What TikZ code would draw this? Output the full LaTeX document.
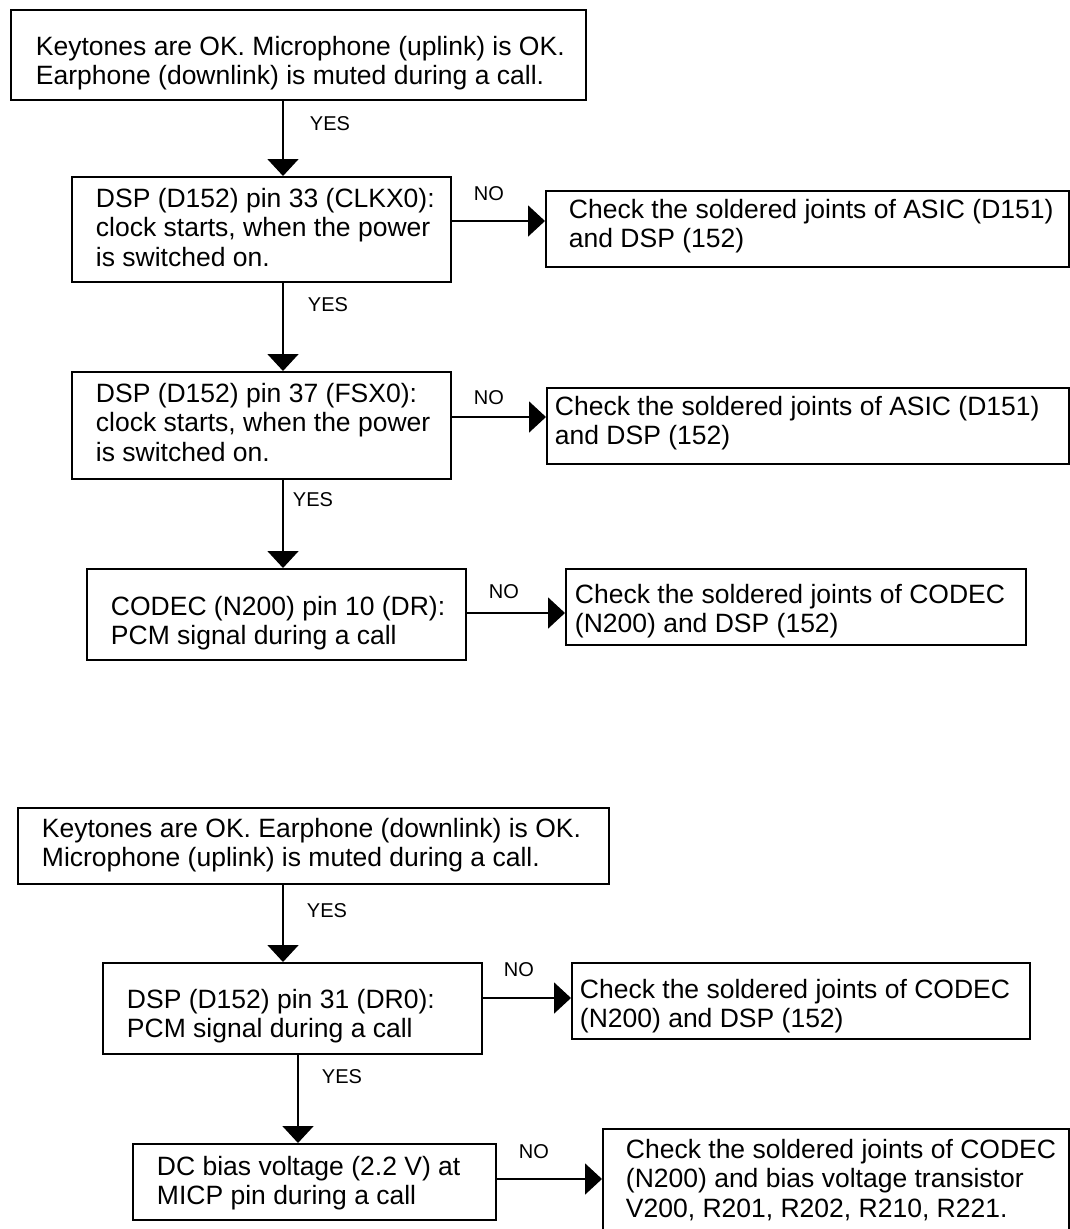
\documentclass[tikz,border=0pt]{standalone}
\usepackage{fontspec}
\setmainfont{Liberation Sans}
\usetikzlibrary{arrows.meta}
% name, x1, y1, x2, y2, text x, first baseline y, text
\newcommand{\flowbox}[8]{%
  \node[boxst, minimum width={(#4-#2)*1pt}, minimum height={(#5-#3)*1pt}] (#1) at (#2,#3) {};
  \node[txt] (#1t) at (#6,#7) {\begin{tabular}[t]{@{}l@{}}#8\end{tabular}};}
\begin{document}
\begin{tikzpicture}[x=1pt,y=-1pt,line width=1.9pt,
  boxst/.style={draw, rectangle, inner sep=0pt, anchor=north west},
  txt/.style={inner sep=0pt, anchor=base west, font=\fontsize{26.5}{29.5}\selectfont},
  lbl/.style={font=\fontsize{20}{24}\selectfont, inner sep=0pt, anchor=west},
  arr/.style={-{Triangle[width=31pt,length=17pt]}}]
\fill[white] (0,0) rectangle (1070,1229);
\useasboundingbox (0,0) rectangle (1070,1229);
% top chart
\flowbox{A1}{10}{9}{585}{99}{35}{55}{Keytones are OK. Microphone (uplink) is OK.\\Earphone (downlink) is muted during a call.}
\flowbox{A2}{71}{176}{450}{281}{95}{207}{DSP (D152) pin 33 (CLKX0):\\clock starts, when the power\\is switched on.}
\flowbox{C1}{545}{190}{1068}{266}{568}{218}{Check the soldered joints of ASIC (D151)\\and DSP (152)}
\flowbox{A3}{71}{371}{450}{478}{95}{402}{DSP (D152) pin 37 (FSX0):\\clock starts, when the power\\is switched on.}
\flowbox{C2}{546}{387}{1068}{463}{554}{415}{Check the soldered joints of ASIC (D151)\\and DSP (152)}
\flowbox{A4}{86}{568}{465}{659}{110}{615}{CODEC (N200) pin 10 (DR):\\PCM signal during a call}
\flowbox{C3}{565}{568}{1025}{644}{574}{603}{Check the soldered joints of CODEC\\(N200) and DSP (152)}
% bottom chart
\flowbox{B1}{17}{807}{608}{883}{41}{837}{Keytones are OK. Earphone (downlink) is OK.\\Microphone (uplink) is muted during a call.}
\flowbox{B2}{102}{962}{481}{1053}{126}{1008}{DSP (D152) pin 31 (DR0):\\PCM signal during a call}
\flowbox{C4}{571}{962}{1029}{1038}{579}{998}{Check the soldered joints of CODEC\\(N200) and DSP (152)}
\flowbox{B3}{132}{1143}{495}{1219}{156}{1175}{DC bias voltage (2.2 V) at\\MICP pin during a call}
\flowbox{C5}{602}{1128}{1068}{1240}{625}{1158}{Check the soldered joints of CODEC\\(N200) and bias voltage transistor\\V200, R201, R202, R210, R221.}
% connector guide coordinates
\coordinate (xa) at (283,0);
\coordinate (xc) at (298,0);
\coordinate (h1) at (0,221);
\coordinate (h2) at (0,417);
\coordinate (h3) at (0,613);
\coordinate (h4) at (0,998);
\coordinate (h5) at (0,1179);
% vertical connectors
\draw[arr] (xa |- A1.south) -- (xa |- A2.north);
\draw[arr] (xa |- A2.south) -- (xa |- A3.north);
\draw[arr] (xa |- A3.south) -- (xa |- A4.north);
\draw[arr] (xa |- B1.south) -- (xa |- B2.north);
\draw[arr] (xc |- B2.south) -- (xc |- B3.north);
% horizontal connectors
\draw[arr] (A2.east |- h1) -- (C1.west |- h1);
\draw[arr] (A3.east |- h2) -- (C2.west |- h2);
\draw[arr] (A4.east |- h3) -- (C3.west |- h3);
\draw[arr] (B2.east |- h4) -- (C4.west |- h4);
\draw[arr] (B3.east |- h5) -- (C5.west |- h5);
% labels
\node[lbl] (y1) at (309,124) {YES};
\node[lbl] (n1) at (473,194) {NO};
\node[lbl] (y2) at (307,305) {YES};
\node[lbl] (n2) at (473,398) {NO};
\node[lbl] (y3) at (292,500) {YES};
\node[lbl] (n3) at (488,592) {NO};
\node[lbl] (y4) at (306,911) {YES};
\node[lbl] (n4) at (503,970) {NO};
\node[lbl] (y5) at (321,1077) {YES};
\node[lbl] (n5) at (518,1152) {NO};
\end{tikzpicture}
\end{document}
